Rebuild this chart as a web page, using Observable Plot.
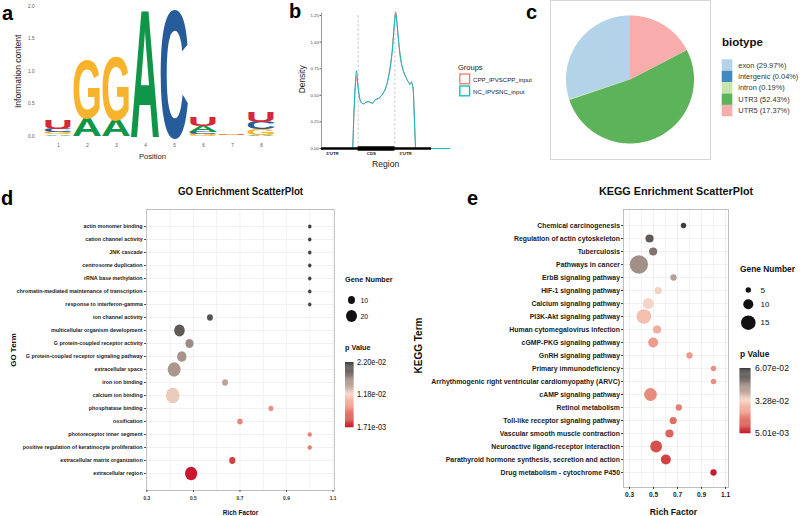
<!DOCTYPE html>
<html><head><meta charset="utf-8">
<script src="https://cdn.jsdelivr.net/npm/d3@7"></script>
<script src="https://cdn.jsdelivr.net/npm/@observablehq/plot@0.6"></script>
<style>
html,body{margin:0;padding:0;background:#fff}
#root{position:relative;width:800px;height:516px;overflow:hidden;background:#fff}
</style></head>
<body><div id="root"></div>
<script>
const SANS = "'Liberation Sans', Arial, Helvetica, sans-serif";

// ===== DATA =====
// (a) sequence logo, information content (bits) per base and position
const logoPositions = [1, 2, 3, 4, 5, 6, 7, 8];
const logoBases = ["A", "C", "G", "U"];
const logoColors = ["#109648", "#255C99", "#F7B32B", "#D62839"];
const logoBitsA = [0.02, 0.28, 0.26, 1.96, 0.00, 0.09, 0.004, 0.01];
const logoBitsC = [0.05, 0.00, 0.00, 0.00, 1.96, 0.035, 0.004, 0.11];
const logoBitsG = [0.03, 0.89, 0.98, 0.00, 0.00, 0.03, 0.010, 0.10];
const logoBitsU = [0.14, 0.00, 0.00, 0.00, 0.00, 0.13, 0.008, 0.15];
const logoTicks = [0, 0.5, 1, 1.5, 2];

// (b) metagene density
const regionX = [0, 0.8, 0.845, 0.88, 0.92, 0.954, 0.99, 1.035, 1.09, 1.15, 1.2, 1.28, 1.35, 1.39, 1.47, 1.55, 1.62, 1.68, 1.74, 1.8, 1.86, 1.93, 1.99, 2.02, 2.05, 2.09, 2.15, 2.23, 2.3, 2.36, 2.41, 2.45, 2.5, 2.53, 2.57, 3.0, 3.5];
const densityCPP = [0, 0, 0, 0.28, 0.57, 0.68, 0.60, 0.48, 0.43, 0.42, 0.43, 0.44, 0.43, 0.43, 0.46, 0.47, 0.49, 0.52, 0.56, 0.63, 0.74, 0.93, 1.19, 1.285, 1.21, 1.05, 0.86, 0.73, 0.67, 0.63, 0.61, 0.63, 0.55, 0.30, 0, 0, 0];
const densityNC = [0, 0, 0, 0.30, 0.60, 0.73, 0.61, 0.48, 0.43, 0.42, 0.435, 0.44, 0.43, 0.425, 0.46, 0.47, 0.49, 0.52, 0.56, 0.63, 0.73, 0.92, 1.18, 1.27, 1.20, 1.05, 0.86, 0.73, 0.67, 0.63, 0.60, 0.62, 0.55, 0.30, 0, 0, 0];
const groupNames = ["CPP_IPVSCPP_input", "NC_IPVSNC_input"];
const groupColors = ["#F8766D", "#00BFC4"];
const densityTicks = [0, 0.25, 0.5, 0.75, 1, 1.25];
const regionLabels = ["5'UTR", "CDS", "3'UTR"];
const regionLabelPos = [0.3, 1.36, 2.29];
const modelParts = ["transcript", "CDS"];
const modelStart = [0, 1];
const modelEnd = [3, 2];
const cdsBounds = [1, 2];

// (c) biotype pie
const biotypes = ["exon", "intergenic", "intron", "UTR3", "UTR5"];
const biotypePct = [29.97, 0.04, 0.19, 52.43, 17.37];
const biotypeColors = ["#b3d4e8", "#4289c2", "#c5e5aa", "#5db359", "#f9acac"];

// (d) GO enrichment
const goTerms = ["actin monomer binding", "cation channel activity", "JNK cascade", "centrosome duplication", "rRNA base methylation", "chromatin-mediated maintenance of transcription", "response to interferon-gamma", "ion channel activity", "multicellular organism development", "G protein-coupled receptor activity", "G protein-coupled receptor signaling pathway", "extracellular space", "iron ion binding", "calcium ion binding", "phosphatase binding", "ossification", "photoreceptor inner segment", "positive regulation of keratinocyte proliferation", "extracellular matrix organization", "extracellular region"];
const goRich = [1.0, 1.0, 1.0, 1.0, 1.0, 1.0, 1.0, 0.571, 0.44, 0.483, 0.45, 0.417, 0.636, 0.411, 0.833, 0.70, 1.0, 1.0, 0.667, 0.49];
const goCount = [1, 1, 1, 1, 1, 1, 1, 7, 19, 13, 16, 25, 7, 27, 5, 6, 3, 3, 8, 23];
const goP = [0.0220, 0.0219, 0.0218, 0.0217, 0.0216, 0.0215, 0.0214, 0.0205, 0.0200, 0.0165, 0.0160, 0.0158, 0.0150, 0.0125, 0.0075, 0.0070, 0.0068, 0.0066, 0.0032, 0.00171];
const goPTicks = [0.00171, 0.0118, 0.0220];
const goSizeTicks = [10, 20];

// (e) KEGG enrichment
const keggTerms = ["Chemical carcinogenesis", "Regulation of actin cytoskeleton", "Tuberculosis", "Pathways in cancer", "ErbB signaling pathway", "HIF-1 signaling pathway", "Calcium signaling pathway", "PI3K-Akt signaling pathway", "Human cytomegalovirus infection", "cGMP-PKG signaling pathway", "GnRH signaling pathway", "Primary immunodeficiency", "Arrhythmogenic right ventricular cardiomyopathy (ARVC)", "cAMP signaling pathway", "Retinol metabolism", "Toll-like receptor signaling pathway", "Vascular smooth muscle contraction", "Neuroactive ligand-receptor interaction", "Parathyroid hormone synthesis, secretion and action", "Drug metabolism - cytochrome P450"];
const keggRich = [0.75, 0.467, 0.497, 0.378, 0.667, 0.539, 0.456, 0.42, 0.53, 0.497, 0.80, 1.0, 1.0, 0.475, 0.711, 0.664, 0.633, 0.522, 0.603, 1.0];
const keggCount = [5, 8, 8, 19, 6, 7, 11, 15, 8, 10, 6, 5, 5, 13, 6, 7, 8, 12, 10, 6];
const keggP = [0.0607, 0.055, 0.050, 0.045, 0.042, 0.0335, 0.033, 0.029, 0.026, 0.023, 0.0225, 0.021, 0.0205, 0.020, 0.018, 0.016, 0.014, 0.011, 0.009, 0.00501];
const keggPTicks = [0.00501, 0.0328, 0.0607];
const keggSizeTicks = [5, 10, 15];

const richTicks = [0.3, 0.5, 0.7, 0.9, 1.1];
const richGrid = [0.3, 0.4, 0.5, 0.6, 0.7, 0.8, 0.9, 1.0, 1.1];
const pColors = ["#c8172f", "#f8d5c6", "#3e3e3e"];

// ===== helpers =====
const root = document.getElementById("root");
function place(svg, left, top) {
  svg.style.position = "absolute";
  svg.style.left = left + "px";
  svg.style.top = top + "px";
  svg.style.maxWidth = "none";
  root.appendChild(svg);
  return svg;
}
const fmtE = v => {
  const [m, e] = v.toExponential(2).split("e");
  const n = Math.abs(+e);
  return m + "e" + (+e < 0 ? "-" : "+") + String(n).padStart(2, "0");
};
const ident = d => d;
const T = {textAnchor: "middle", lineAnchor: "middle", text: ident};

// ===== (a) sequence logo =====
const logoBits = [logoBitsA, logoBitsC, logoBitsG, logoBitsU];
const logoStack = [];
logoPositions.forEach((p, i) => {
  const items = logoBases.map((b, j) => ({base: b, bits: logoBits[j][i]}))
    .filter(d => d.bits > 0).sort((a, b) => a.bits - b.bits);
  let y = 0;
  for (const it of items) { logoStack.push({pos: p, base: it.base, y0: y, y1: y + it.bits}); y += it.bits; }
});

const plotA = Plot.plot({
  width: 280, height: 170, marginLeft: 42, marginRight: 4, marginTop: 5.9, marginBottom: 34.3,
  style: {fontFamily: SANS, background: "transparent", overflow: "visible"},
  x: {type: "band", domain: logoPositions, paddingInner: 0.04, paddingOuter: 0.02},
  y: {domain: [0, 2]},
  color: {domain: logoBases, range: logoColors},
  marks: [
    Plot.axisY({ticks: logoTicks, tickFormat: ".1f", tickSize: 0, tickPadding: 8, fontSize: 4.6, fill: "#555", label: null}),
    Plot.axisX({tickSize: 0, tickPadding: 8, fontSize: 4.6, fill: "#555", label: null}),
    Plot.text(logoStack, {x: "pos", y: d => (d.y0 + d.y1) / 2, text: "base", fill: "base", fontSize: 100, fontWeight: "bold", fontFamily: SANS}),
    Plot.text(["Information content"], {...T, frameAnchor: "left", dx: -24, rotate: -90, fontSize: 8.6, fill: "#222"}),
    Plot.text(["Position"], {...T, frameAnchor: "bottom", dx: -7, dy: 20, fontSize: 7.6, fill: "#222"})
  ]
});
place(plotA, 0, 0);
{
  // stretch each letter glyph to fill its stacked cell (as in a sequence logo)
  const xs = plotA.scale("x"), ys = plotA.scale("y");
  const grp = [...plotA.querySelectorAll("g")].find(g => g.querySelectorAll(":scope > text").length === logoStack.length);
  if (grp) {
    grp.removeAttribute("transform");
    const texts = grp.querySelectorAll(":scope > text");
    const F = 100, capH = 0.70;
    texts.forEach((el, i) => {
      const d = logoStack[i];
      ["x", "y", "dx", "dy", "transform"].forEach(a => el.removeAttribute(a));
      el.setAttribute("font-size", F);
      el.setAttribute("text-anchor", "start");
      const bb = el.getBBox();
      const w = bb.width || 72;
      const midx = bb.x + w / 2;
      const bw = xs.bandwidth;
      const cx = xs.apply(d.pos) + bw / 2;
      const yb = ys.apply(d.y0), yt = ys.apply(d.y1);
      const sx = bw * 1.07 / w, sy = (yb - yt) / (capH * F);
      el.setAttribute("transform", `translate(${cx},${yb + 0.008 * F * sy}) scale(${sx},${sy}) translate(${-midx},0)`);
    });
  }
}

// ===== (b) density =====
const densLong = [];
groupNames.forEach((g, gi) => {
  const vals = gi === 0 ? densityCPP : densityNC;
  regionX.forEach((x, i) => densLong.push({group: g, x, d: vals[i]}));
});
const model = modelParts.map((p, i) => ({part: p, start: modelStart[i], end: modelEnd[i]}));
const plotB = Plot.plot({
  width: 250, height: 170, marginLeft: 31, marginRight: 90.6, marginTop: 9.7, marginBottom: 22,
  style: {fontFamily: SANS, background: "transparent", overflow: "visible"},
  x: {domain: [0, 3.5], axis: null},
  y: {domain: [0, 1.3]},
  color: {domain: groupNames, range: groupColors},
  marks: [
    Plot.ruleX(cdsBounds, {y1: 0, y2: 1.27, stroke: "#b5b5b5", strokeDasharray: "2.5,2", strokeWidth: 0.7}),
    Plot.line(densLong, {x: "x", y: "d", z: "group", stroke: "group", strokeWidth: 1, curve: "monotone-x"}),
    Plot.ruleY(model, {y: 0, x1: "start", x2: "end", stroke: "#000", strokeWidth: d => d.part === "CDS" ? 4.6 : 2.6}),
    Plot.ruleX([0], {y1: 0, y2: 1.27, stroke: "#555", strokeWidth: 0.6}),
    Plot.axisY({ticks: densityTicks, tickFormat: ".2f", tickSize: 1.5, tickPadding: 1.2, fontSize: 4.3, fill: "#444", stroke: "#555", label: null}),
    Plot.text(regionLabels, {...T, x: (d, i) => regionLabelPos[i], y: 0, dy: 4.6, fontSize: 4.4, fontWeight: "bold", fill: "#222"}),
    Plot.text(["Density"], {...T, frameAnchor: "left", dx: -19, rotate: -90, fontSize: 8.4, fill: "#222"}),
    Plot.text(["Region"], {...T, frameAnchor: "bottom", dy: 16, fontSize: 8.6, fill: "#222"})
  ]
});
place(plotB, 290, 0);

// ===== (c) pie =====
const pieLong = [];
{
  const total = d3.sum(biotypePct);
  let acc = 0;
  biotypes.forEach((t, i) => {
    const a0 = acc / total * 2 * Math.PI, a1 = (acc + biotypePct[i]) / total * 2 * Math.PI;
    acc += biotypePct[i];
    const n = Math.max(2, Math.ceil((a1 - a0) / 0.02));
    for (let k = 0; k <= n; k++) {
      const a = a0 + (a1 - a0) * k / n;
      pieLong.push({type: t, cx: 0, cy: 0, x: -Math.sin(a), y: Math.cos(a)});
    }
  });
}
const plotC = Plot.plot({
  width: 160, height: 159, marginLeft: 0, marginRight: 0, marginTop: 0, marginBottom: 0,
  style: {background: "transparent", overflow: "visible"},
  x: {domain: [-1.25, 1.25], axis: null},
  y: {domain: [-1.242, 1.242], axis: null},
  color: {domain: biotypes, range: biotypeColors},
  marks: [
    Plot.frame({stroke: "#d6d6d6"}),
    Plot.area(pieLong, {x1: "cx", y1: "cy", x2: "x", y2: "y", z: "type", fill: "type"})
  ]
});
place(plotC, 550, 0);

// ===== (d) GO scatter (drawn wide, then squeezed horizontally like the figure) =====
const SQ = 0.9;
const goData = goTerms.map((t, i) => ({term: t, rich: goRich[i], count: goCount[i], p: goP[i]}));
const plotD = Plot.plot({
  width: 444, height: 336, marginLeft: 162.2, marginRight: 72.8, marginTop: 29, marginBottom: 26,
  style: {fontFamily: SANS, background: "transparent", overflow: "visible"},
  x: {domain: [0.298, 1.1065]},
  y: {type: "point", domain: goTerms, padding: 1.1},
  r: {type: "linear", domain: [10, 20], range: [3.9, 6.1]},
  color: {type: "linear", domain: [goPTicks[0], (goPTicks[0] + goPTicks[2]) / 2, goPTicks[2]], range: pColors, interpolate: "lab"},
  marks: [
    Plot.ruleX(richGrid, {stroke: "#ebebeb", strokeWidth: 0.7}),
    Plot.ruleY(goTerms, {stroke: "#ebebeb", strokeWidth: 0.7}),
    Plot.frame({stroke: "#b0b0b0", strokeWidth: 0.8}),
    Plot.axisY({tickSize: 2.2, tickPadding: 2, fontSize: 5.95, fontWeight: "bold", fill: "#1a1a1a", stroke: "#444", label: null}),
    Plot.axisX({ticks: richTicks, tickFormat: ".1f", tickSize: 2, tickPadding: 3.5, fontSize: 5.4, fontWeight: "bold", fill: "#333", stroke: "#444", label: null}),
    Plot.dot(goData, {x: "rich", y: "term", r: "count", fill: "p", stroke: "none"}),
    Plot.text(["GO Enrichment ScatterPlot"], {...T, frameAnchor: "top", dy: -18, fontSize: 10.8, fontWeight: "bold", fill: "#111"}),
    Plot.text(["GO Term"], {...T, frameAnchor: "left", dx: -147.8, rotate: -90, fontSize: 8, fontWeight: "bold", fill: "#111"}),
    Plot.text(["Rich Factor"], {...T, frameAnchor: "bottom", dy: 22, fontSize: 7.2, fontWeight: "bold", fill: "#111"})
  ]
});
plotD.style.transform = `scaleX(${SQ})`;
plotD.style.transformOrigin = "0 0";
place(plotD, 0, 180);

// ===== (e) KEGG scatter =====
const keggData = keggTerms.map((t, i) => ({term: t, rich: keggRich[i], count: keggCount[i], p: keggP[i]}));
const plotE = Plot.plot({
  width: 400, height: 336, marginLeft: 223, marginRight: 72, marginTop: 29, marginBottom: 29,
  style: {fontFamily: SANS, background: "transparent", overflow: "visible"},
  x: {domain: [0.25, 1.125]},
  y: {type: "point", domain: keggTerms, padding: 1.15},
  r: {type: "linear", domain: [5, 15], range: [2.7, 7.3]},
  color: {type: "linear", domain: [keggPTicks[0], (keggPTicks[0] + keggPTicks[2]) / 2, keggPTicks[2]], range: pColors, interpolate: "lab"},
  marks: [
    Plot.ruleX(richGrid, {stroke: "#ebebeb", strokeWidth: 0.7}),
    Plot.ruleY(keggTerms, {stroke: "#ebebeb", strokeWidth: 0.7}),
    Plot.frame({stroke: "#b0b0b0", strokeWidth: 0.8}),
    Plot.axisY({tickSize: 2, tickPadding: 1.5, fontSize: 6.9, fontWeight: "bold", fill: "#1a1a1a", stroke: "#444", label: null}),
    Plot.axisX({ticks: richTicks, tickFormat: ".1f", tickSize: 2, tickPadding: 2.5, fontSize: 6.6, fontWeight: "bold", fill: "#222", stroke: "#444", label: null}),
    Plot.dot(keggData, {x: "rich", y: "term", r: "count", fill: "p", stroke: "none"}),
    Plot.text(["KEGG Enrichment ScatterPlot"], {...T, frameAnchor: "top", dy: -18, fontSize: 10.8, fontWeight: "bold", fill: "#111"}),
    Plot.text(["KEGG Term"], {...T, frameAnchor: "left", dx: -205, dy: -3, rotate: -90, fontSize: 10, fontWeight: "bold", fill: "#111"}),
    Plot.text(["Rich Factor"], {...T, frameAnchor: "bottom", dx: -2.5, dy: 25, fontSize: 8.6, fontWeight: "bold", fill: "#111"})
  ]
});
place(plotE, 400, 180);

// ===== overlay: panel letters and legends =====
const ov = d3.create("svg").attr("width", 800).attr("height", 516)
  .style("position", "absolute").style("left", "0px").style("top", "0px").style("overflow", "visible");
root.appendChild(ov.node());
function addText(g, x, y, s, o = {}) {
  return g.append("text").attr("x", x).attr("y", y)
    .attr("dominant-baseline", o.baseline || "central")
    .attr("text-anchor", o.anchor || "start")
    .attr("font-size", o.size || 8).attr("font-weight", o.weight || "normal")
    .attr("font-family", SANS).attr("fill", o.fill || "#1a1a1a").text(s);
}
// panel letters
[["a", 2, 20], ["b", 289, 18], ["c", 526, 19], ["d", 1, 205], ["e", 467, 205]].forEach(([s, x, y]) =>
  addText(ov, x, y, s, {size: 20, weight: "bold", baseline: "alphabetic", fill: "#000"}));

// (b) legend
addText(ov, 458, 67, "Groups", {size: 7.5, fill: "#222"});
groupNames.forEach((g, i) => {
  ov.append("rect").attr("x", 459.8).attr("y", 74 + i * 12).attr("width", 9.8).attr("height", 9.8)
    .attr("fill", "#fafafa").attr("stroke", groupColors[i]).attr("stroke-width", 1.3);
  addText(ov, 473, 79 + i * 12, g, {size: 6.1, fill: "#222"});
});

// (c) legend
addText(ov, 722, 42, "biotype", {size: 11.5, weight: "bold", fill: "#111"});
biotypes.forEach((t, i) => {
  ov.append("rect").attr("x", 721.7).attr("y", 59.3 + i * 11.4).attr("width", 10.6).attr("height", 11.4)
    .attr("fill", plotC.scale("color").apply(t));
  addText(ov, 738.3, 65 + i * 11.4, `${t} (${biotypePct[i].toFixed(2)}%)`, {size: 7.4, fill: "#333"});
});

// (d) legends (squeezed like the panel)
{
  const g = ov.append("g").attr("transform", `scale(${SQ},1)`);
  const rS = plotD.scale("r"), cS = plotD.scale("color");
  const X = px => px / SQ;
  addText(g, X(345), 279, "Gene Number", {size: 8.1, weight: "bold", fill: "#111"});
  goSizeTicks.forEach((v, i) => {
    const cy = [300, 316][i];
    g.append("circle").attr("cx", X(351.5)).attr("cy", cy).attr("r", rS.apply(v)).attr("fill", "#111");
    addText(g, X(360.5), cy, String(v), {size: 7.7, fill: "#111"});
  });
  addText(g, X(345), 347, "p Value", {size: 8.1, weight: "bold", fill: "#111"});
  const y0 = 362, h = 65, n = 60, lo = goPTicks[0], hi = goPTicks[2];
  for (let k = 0; k < n; k++) {
    const v = hi - (hi - lo) * (k + 0.5) / n;
    g.append("rect").attr("x", X(345)).attr("y", y0 + h * k / n).attr("width", 9.5).attr("height", h / n + 0.3)
      .attr("fill", cS.apply(v));
  }
  goPTicks.forEach(v => addText(g, X(357), y0 + (hi - v) / (hi - lo) * h, fmtE(v), {size: 8.2, fill: "#111"}));
}

// (e) legends
{
  const rS = plotE.scale("r"), cS = plotE.scale("color");
  addText(ov, 740, 269, "Gene Number", {size: 8.4, weight: "bold", fill: "#111"});
  keggSizeTicks.forEach((v, i) => {
    const cy = [290, 304.3, 322.7][i];
    ov.append("circle").attr("cx", 748.3).attr("cy", cy).attr("r", rS.apply(v)).attr("fill", "#111");
    addText(ov, 760.5, cy, String(v), {size: 8, fill: "#111"});
  });
  addText(ov, 740, 354, "p Value", {size: 8.4, weight: "bold", fill: "#111"});
  const y0 = 368, h = 65, n = 60, lo = keggPTicks[0], hi = keggPTicks[2];
  for (let k = 0; k < n; k++) {
    const v = hi - (hi - lo) * (k + 0.5) / n;
    ov.append("rect").attr("x", 739.5).attr("y", y0 + h * k / n).attr("width", 11).attr("height", h / n + 0.3)
      .attr("fill", cS.apply(v));
  }
  keggPTicks.forEach(v => addText(ov, 755, y0 + (hi - v) / (hi - lo) * h, fmtE(v), {size: 8.6, fill: "#111"}));
}
</script></body></html>
